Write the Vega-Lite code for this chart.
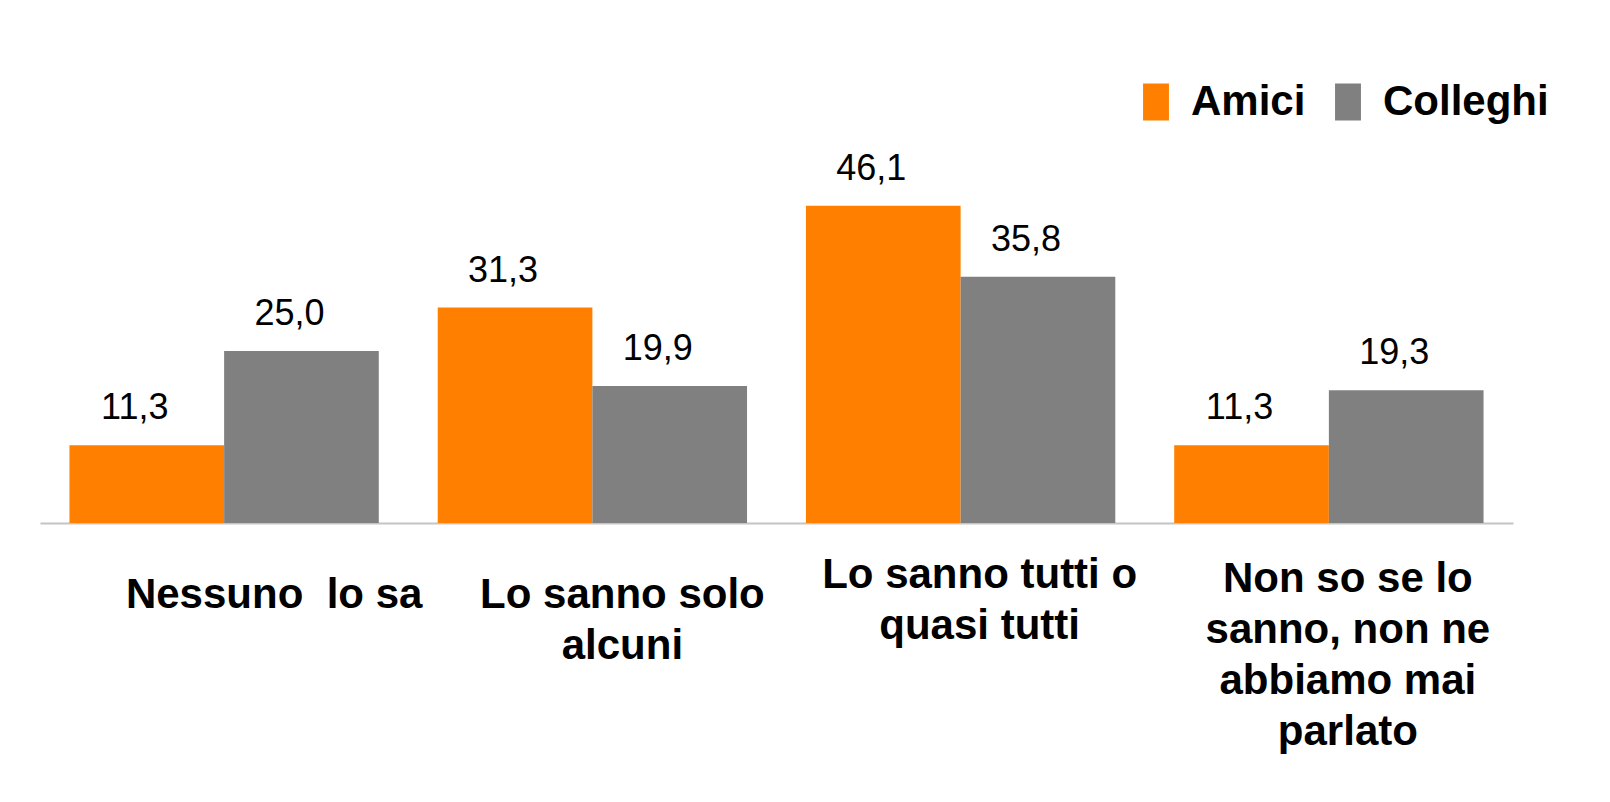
{
  "$schema": "https://vega.github.io/schema/vega-lite/v6.json",
  "autosize": "none",
  "width": 1473,
  "height": 523,
  "padding": {"left": 40, "top": 0, "right": 97, "bottom": 279},
  "background": "white",
  "config": {
    "view": {"stroke": null},
    "locale": {"number": {"decimal": ",", "thousands": ".", "grouping": [3], "currency": ["€", ""]}},
    "font": "Liberation Sans"
  },
  "data": {
    "values": [
      {"categoria": "Nessuno  lo sa", "gruppo": "Amici", "valore": 11.3},
      {"categoria": "Nessuno  lo sa", "gruppo": "Colleghi", "valore": 25.0},
      {"categoria": "Lo sanno solo alcuni", "gruppo": "Amici", "valore": 31.3},
      {"categoria": "Lo sanno solo alcuni", "gruppo": "Colleghi", "valore": 19.9},
      {"categoria": "Lo sanno tutti o quasi tutti", "gruppo": "Amici", "valore": 46.1},
      {"categoria": "Lo sanno tutti o quasi tutti", "gruppo": "Colleghi", "valore": 35.8},
      {"categoria": "Non so se lo sanno, non ne abbiamo mai parlato", "gruppo": "Amici", "valore": 11.3},
      {"categoria": "Non so se lo sanno, non ne abbiamo mai parlato", "gruppo": "Colleghi", "valore": 19.3}
    ]
  },
  "encoding": {
    "x": {
      "field": "categoria",
      "type": "nominal",
      "sort": null,
      "scale": {"paddingInner": 0.16, "paddingOuter": 0.08},
      "axis": {
        "title": null,
        "ticks": false,
        "tickSize": 0,
        "domainColor": "#C4C4C4",
        "domainWidth": 2,
        "labelAngle": 0,
        "labelFont": "Liberation Sans",
        "labelFontSize": 42,
        "labelFontWeight": "bold",
        "labelColor": "#000000",
        "labelBaseline": "alphabetic",
        "labelLineHeight": 51,
        "labelLimit": 0,
        "labelOverlap": false,
        "labelExpr": "datum.value == 'Nessuno  lo sa' ? 'Nessuno\u00a0 lo sa' : datum.value == 'Lo sanno solo alcuni' ? ['Lo sanno solo', 'alcuni'] : datum.value == 'Lo sanno tutti o quasi tutti' ? ['Lo sanno tutti o', 'quasi tutti'] : ['Non so se lo', 'sanno, non ne', 'abbiamo mai', 'parlato']",
        "labelOffset": {"expr": "datum.value == 'Nessuno  lo sa' ? 50 : datum.value == 'Lo sanno solo alcuni' ? 30 : 19"},
        "labelPadding": {"expr": "datum.value == 'Lo sanno tutti o quasi tutti' ? 64 : datum.value == 'Non so se lo sanno, non ne abbiamo mai parlato' ? 68 : 84"}
      }
    },
    "xOffset": {"field": "gruppo", "type": "nominal", "sort": ["Amici", "Colleghi"]},
    "y": {
      "field": "valore",
      "type": "quantitative",
      "scale": {"domain": [0, 76], "nice": false, "zero": true},
      "axis": null
    }
  },
  "layer": [
    {
      "mark": {"type": "bar"},
      "encoding": {
        "color": {
          "field": "gruppo",
          "type": "nominal",
          "scale": {"domain": ["Amici", "Colleghi"], "range": ["#FF8000", "#808080"]},
          "legend": {
            "title": null,
            "orient": "none",
            "direction": "horizontal",
            "legendX": 1095,
            "legendY": 81,
            "symbolType": "M-0.7,-1H0.7V1H-0.7Z",
            "symbolSize": 1369,
            "symbolStrokeWidth": 0,
            "symbolOpacity": 1,
            "labelFont": "Liberation Sans",
            "labelFontSize": 42,
            "labelFontWeight": "bold",
            "labelColor": "#000000",
            "labelOffset": 14,
            "labelLimit": 0,
            "columnPadding": 21,
            "padding": 0
          }
        }
      }
    },
    {
      "mark": {"type": "text", "baseline": "alphabetic", "align": "center", "dx": -12, "dy": -26, "fontSize": 36, "font": "Liberation Sans", "color": "#000000"},
      "encoding": {
        "text": {"field": "valore", "type": "quantitative", "format": ".1f"}
      }
    }
  ]
}
